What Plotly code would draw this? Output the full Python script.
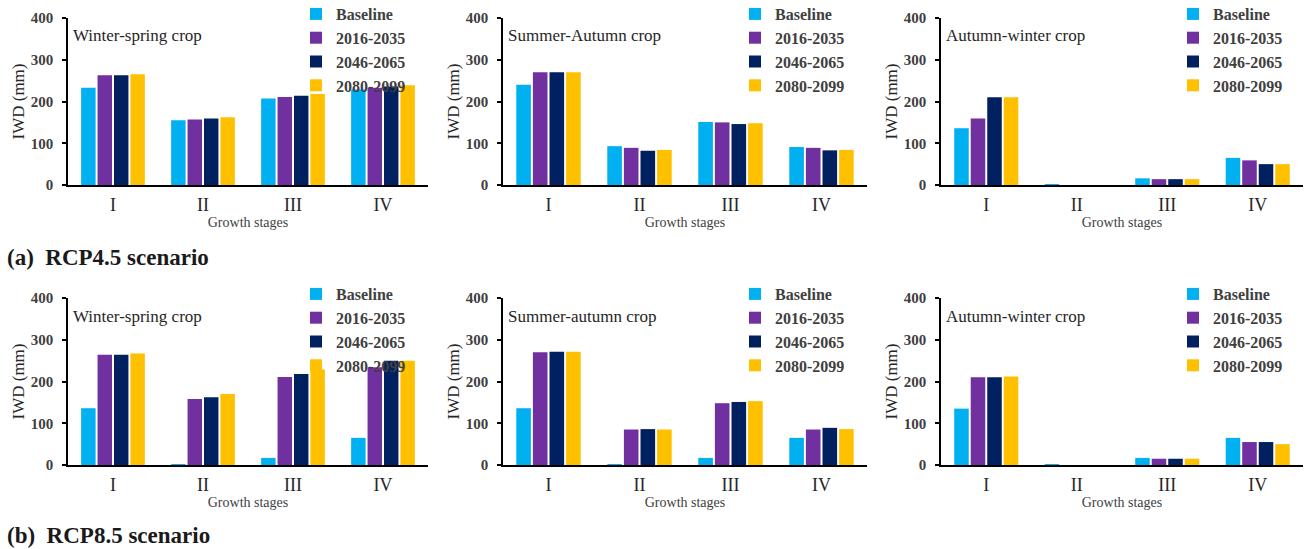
import plotly.graph_objects as go

# ---------------- data ----------------
stages = ["I", "II", "III", "IV"]
periods = ["Baseline", "2016-2035", "2046-2065", "2080-2099"]
colors = ["#00B0F0", "#7030A0", "#002060", "#FFC000"]
y_ticks = [0, 100, 200, 300, 400]

# (a) RCP4.5 - Winter-spring crop
ws45_baseline = [233, 155, 207, 229]
ws45_2016_2035 = [263, 157, 211, 233]
ws45_2046_2065 = [263, 159, 214, 236]
ws45_2080_2099 = [265, 162, 218, 239]

# (a) RCP4.5 - Summer-Autumn crop
sa45_baseline = [240, 93, 151, 91]
sa45_2016_2035 = [270, 89, 150, 89]
sa45_2046_2065 = [270, 82, 146, 83]
sa45_2080_2099 = [270, 84, 148, 84]

# (a) RCP4.5 - Autumn-winter crop
aw45_baseline = [136, 2, 16, 65]
aw45_2016_2035 = [159, 0, 14, 59]
aw45_2046_2065 = [210, 0, 14, 50]
aw45_2080_2099 = [210, 0, 14, 50]

# (b) RCP8.5 - Winter-spring crop
ws85_baseline = [136, 2, 17, 65]
ws85_2016_2035 = [264, 158, 211, 234]
ws85_2046_2065 = [264, 162, 218, 250]
ws85_2080_2099 = [267, 170, 229, 250]

# (b) RCP8.5 - Summer-autumn crop
sa85_baseline = [136, 2, 17, 65]
sa85_2016_2035 = [270, 85, 148, 85]
sa85_2046_2065 = [271, 86, 151, 89]
sa85_2080_2099 = [271, 85, 153, 86]

# (b) RCP8.5 - Autumn-winter crop
aw85_baseline = [135, 2, 17, 65]
aw85_2016_2035 = [210, 0, 15, 55]
aw85_2046_2065 = [210, 0, 15, 55]
aw85_2080_2099 = [212, 0, 15, 50]

panels = [
    ("Winter-spring crop", [ws45_baseline, ws45_2016_2035, ws45_2046_2065, ws45_2080_2099]),
    ("Summer-Autumn crop", [sa45_baseline, sa45_2016_2035, sa45_2046_2065, sa45_2080_2099]),
    ("Autumn-winter crop", [aw45_baseline, aw45_2016_2035, aw45_2046_2065, aw45_2080_2099]),
    ("Winter-spring crop", [ws85_baseline, ws85_2016_2035, ws85_2046_2065, ws85_2080_2099]),
    ("Summer-autumn crop", [sa85_baseline, sa85_2016_2035, sa85_2046_2065, sa85_2080_2099]),
    ("Autumn-winter crop", [aw85_baseline, aw85_2016_2035, aw85_2046_2065, aw85_2080_2099]),
]

# ---------------- layout geometry (pixels) ----------------
W, H = 1308, 549
MT, MB = 16, 8                            # margins (px); plot area = H - MT - MB
HA = H - MT - MB
col_px = [(68, 428), (503, 867), (941, 1303)]
row_px = [(18, 185), (298, 465)]          # (top, bottom) of plotting area in page px
legend_text_x = [336, 775, 1213]
legend_top = [-3, 277]


def py(p):
    """page pixel row -> paper y fraction"""
    return 1 - (p - MT) / HA


SERIF = "Liberation Serif"

fig = go.Figure()
layout = dict(
    width=W, height=H,
    margin=dict(l=0, r=0, t=MT, b=MB, autoexpand=False),
    paper_bgcolor="white", plot_bgcolor="white",
    barmode="group", bargap=0.27, bargroupgap=0.12,
    font=dict(family=SERIF, color="#262626"),
    annotations=[], showlegend=True,
)

for i, (title, series) in enumerate(panels):
    r, c = divmod(i, 3)
    n = i + 1
    xa = "x" if n == 1 else f"x{n}"
    ya = "y" if n == 1 else f"y{n}"
    lg = "legend" if n == 1 else f"legend{n}"
    for name, vals, col in zip(periods, series, colors):
        fig.add_trace(go.Bar(
            x=stages, y=vals, name=name, marker=dict(color=col, line=dict(width=0)),
            xaxis=xa, yaxis=ya, legend=lg, showlegend=True,
        ))
    x0, x1 = col_px[c]
    top, bot = row_px[r]
    layout[f"xaxis{'' if n == 1 else n}"] = dict(
        domain=[x0 / W, x1 / W], anchor=ya, automargin=False,
        showline=True, linecolor="black", linewidth=1.5,
        showgrid=False, zeroline=False, ticks="",
        tickfont=dict(family=SERIF, size=18, color="#262626"),
        ticklabelstandoff=3,
        title=dict(text="Growth stages", font=dict(family=SERIF, size=14, color="#404040"), standoff=0),
    )
    layout[f"yaxis{'' if n == 1 else n}"] = dict(
        domain=[py(bot), py(top)], anchor=xa, automargin=False,
        range=[0, 400], tickvals=y_ticks,
        showline=True, linecolor="black", linewidth=1.5,
        showgrid=False, zeroline=False,
        ticks="outside", ticklen=4, tickcolor="black", tickwidth=1.5,
        ticklabelstandoff=6,
        tickfont=dict(family=SERIF, size=15, color="#404040", weight="bold"),
        title=dict(text="IWD (mm)", font=dict(family=SERIF, size=17, color="#262626"), standoff=2),
    )
    layout[lg] = dict(
        x=(legend_text_x[c] - 40) / W, xanchor="left",
        y=py(legend_top[r]), yanchor="top",
        bgcolor="rgba(0,0,0,0)", borderwidth=0,
        font=dict(family=SERIF, size=16, color="#404040", weight="bold"),
        itemwidth=30, tracegroupgap=0,
    )
    layout["annotations"].append(dict(
        text=title, xref="paper", yref="paper",
        x=(x0 + 3) / W, y=py(top + 18), xanchor="left", yanchor="middle",
        showarrow=False, font=dict(family=SERIF, size=17, color="#262626"),
    ))

layout["annotations"].append(dict(
    text="<b>(a)  RCP4.5 scenario</b>", xref="paper", yref="paper",
    x=5 / W, y=py(257), xanchor="left", yanchor="middle",
    showarrow=False, font=dict(family=SERIF, size=23, color="#1a1a1a"),
))
layout["annotations"].append(dict(
    text="<b>(b)  RCP8.5 scenario</b>", xref="paper", yref="paper",
    x=5 / W, y=py(535), xanchor="left", yanchor="middle",
    showarrow=False, font=dict(family=SERIF, size=23, color="#1a1a1a"),
))

fig.update_layout(**layout)
fig.write_html("out.html")
